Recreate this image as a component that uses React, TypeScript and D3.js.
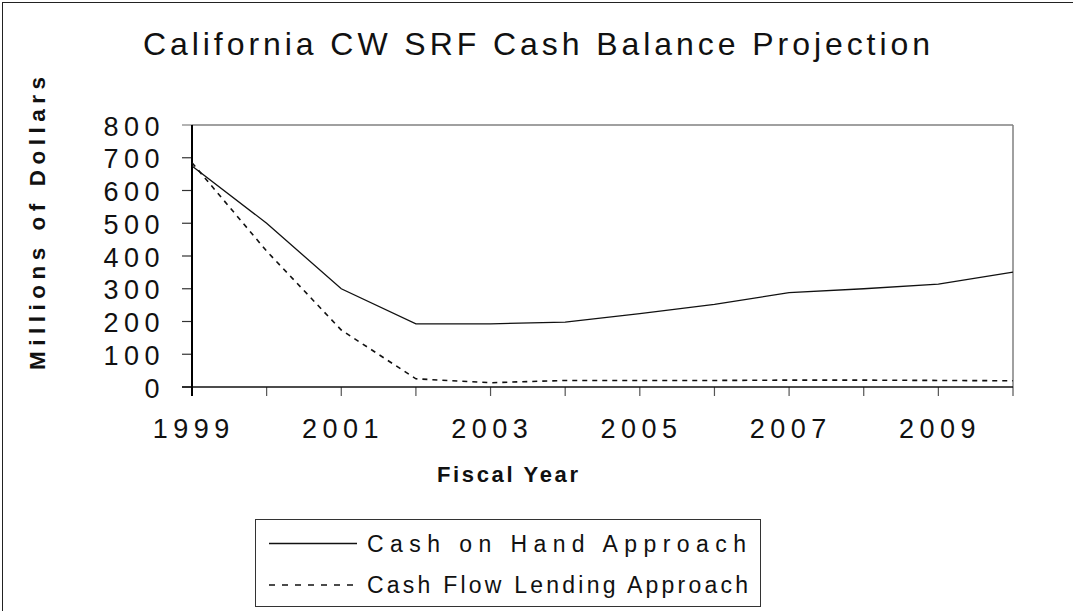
import React from "react";
import * as d3 from "d3";

const years = [1999, 2000, 2001, 2002, 2003, 2004, 2005, 2006, 2007, 2008, 2009, 2010];
const cashOnHand = [675, 500, 300, 193, 193, 198, 224, 252, 288, 300, 314, 351];
const cashFlowLending = [685, 415, 174, 25, 13, 20, 20, 20, 21, 21, 20, 19];
const yTicks = [0, 100, 200, 300, 400, 500, 600, 700, 800];
const xLabelYears = [1999, 2001, 2003, 2005, 2007, 2009];
const title = "California CW SRF Cash Balance Projection";
const xTitle = "Fiscal Year";
const yTitle = "Millions of Dollars";
const seriesNames = ["Cash on Hand Approach", "Cash Flow Lending Approach"];

const W = 1073;
const H = 611;
const plot = { left: 192, right: 1013, top: 125, bottom: 387 };
const FONT = "'Liberation Sans', Arial, sans-serif";
const INK = "#111";

export default function App() {
  const x = d3.scaleLinear().domain([1999, 2010]).range([plot.left, plot.right]);
  const y = d3.scaleLinear().domain([0, 800]).range([plot.bottom, plot.top]);
  const line = d3
    .line<number>()
    .x((_, i) => x(years[i]))
    .y((d) => y(d));

  const tickLs = 5.5;

  return (
    <svg
      width={W}
      height={H}
      style={{ position: "absolute", left: 0, top: 0, background: "#fff" }}
      fontFamily={FONT}
    >
      <rect x={0} y={0} width={W} height={H} fill="#fff" />
      {/* chart border (clipped on right/bottom) */}
      <rect x={2.5} y={2.5} width={W + 40} height={H + 40} fill="none" stroke="#222" strokeWidth={1} />

      {/* title */}
      <text
        x={143}
        y={54.5}
        fontSize={32}
        textLength={787}
        lengthAdjust="spacing"
        fill={INK}
      >
        {title}
      </text>

      {/* plot area border */}
      <line x1={plot.left} x2={plot.right} y1={plot.top} y2={plot.top} stroke="#808080" strokeWidth={1.5} />
      <line x1={plot.right} x2={plot.right} y1={plot.top} y2={plot.bottom} stroke="#808080" strokeWidth={1.5} />

      {/* y ticks */}
      {yTicks.map((t) => (
        <g key={t}>
          <line x1={plot.left - 10} x2={plot.left} y1={y(t)} y2={y(t)} stroke={t === 800 ? "#808080" : "#333"} strokeWidth={1.2} />
          <text
            x={158.5 + tickLs + 1}
            y={y(t) + 10.5}
            textAnchor="end"
            fontSize={27}
            letterSpacing={tickLs}
            fill={INK}
          >
            {t}
          </text>
        </g>
      ))}

      {/* x ticks */}
      {years.map((yr) => (
        <line key={yr} x1={x(yr)} x2={x(yr)} y1={plot.bottom} y2={plot.bottom + 9} stroke="#555" strokeWidth={1.2} />
      ))}
      {xLabelYears.map((yr) => (
        <text
          key={yr}
          x={x(yr) + tickLs / 2 - 1}
          y={438}
          textAnchor="middle"
          fontSize={27}
          letterSpacing={tickLs}
          fill={INK}
        >
          {yr}
        </text>
      ))}

      {/* axes */}
      <line x1={plot.left - 10} x2={plot.right} y1={plot.bottom} y2={plot.bottom} stroke="#111" strokeWidth={1.6} />
      <line x1={plot.left} x2={plot.left} y1={plot.top} y2={plot.bottom + 9} stroke="#000" strokeWidth={2} />

      {/* series */}
      <path d={line(cashOnHand) || ""} fill="none" stroke="#111" strokeWidth={1.3} />
      <path d={line(cashFlowLending) || ""} fill="none" stroke="#111" strokeWidth={1.6} strokeDasharray="5,5" />

      {/* axis titles */}
      <text
        x={437}
        y={482}
        fontSize={22}
        fontWeight="bold"
        textLength={141}
        lengthAdjust="spacing"
        fill={INK}
      >
        {xTitle}
      </text>
      <text
        transform={`translate(44.5, 370) rotate(-90)`}
        fontSize={22.5}
        fontWeight="bold"
        textLength={293}
        lengthAdjust="spacing"
        fill={INK}
      >
        {yTitle}
      </text>

      {/* legend */}
      <rect x={255.5} y={519.5} width={505} height={87} fill="#fff" stroke="#333" strokeWidth={1} />
      <line x1={269} x2={357} y1={543.5} y2={543.5} stroke="#111" strokeWidth={1.3} />
      <line x1={269} x2={357} y1={585} y2={585} stroke="#111" strokeWidth={1.6} strokeDasharray="6,7" />
      <text x={367} y={551.7} fontSize={23} textLength={379} lengthAdjust="spacing" fill={INK}>
        {seriesNames[0]}
      </text>
      <text x={367} y={593.3} fontSize={23} textLength={381} lengthAdjust="spacing" fill={INK}>
        {seriesNames[1]}
      </text>
    </svg>
  );
}
